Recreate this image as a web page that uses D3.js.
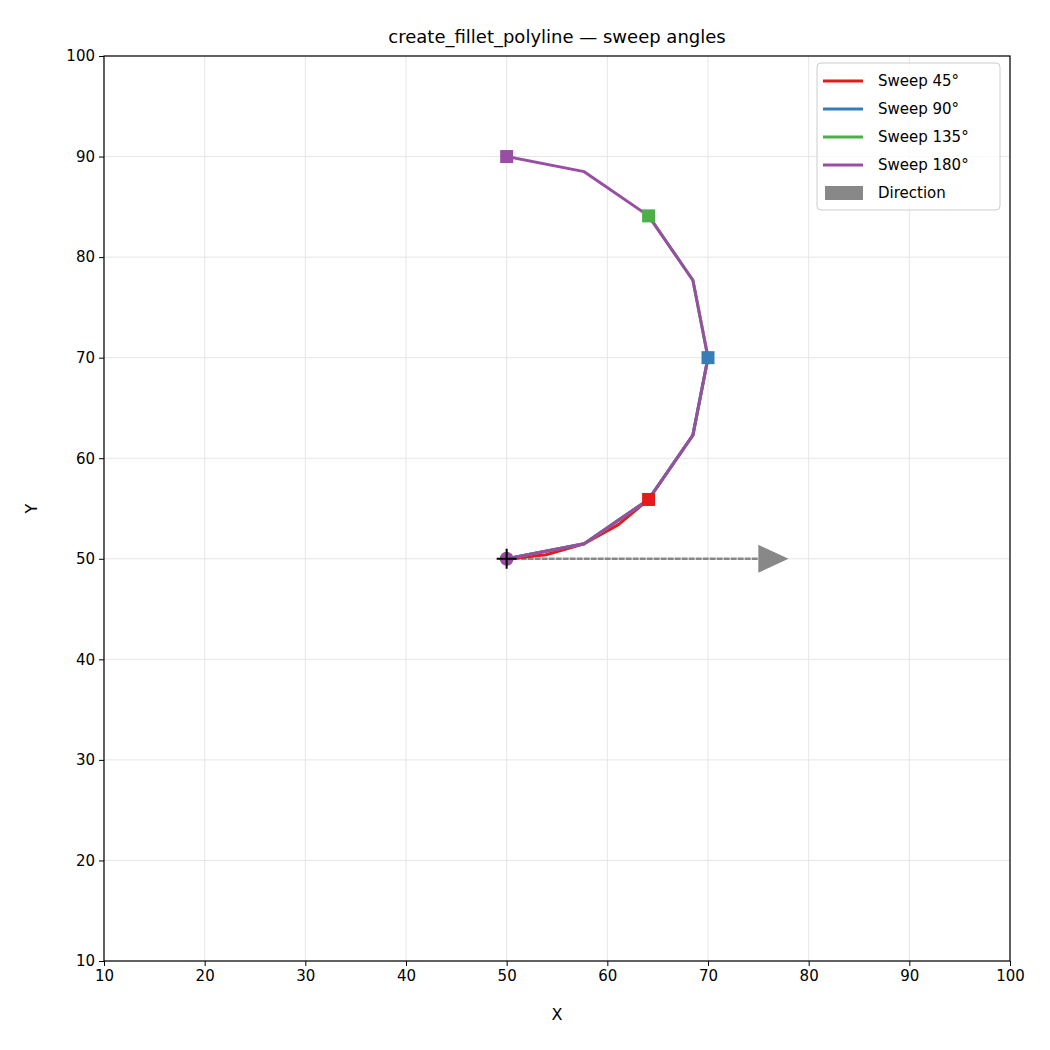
<!DOCTYPE html>
<html><head><meta charset="utf-8">
<script src="https://cdn.jsdelivr.net/npm/d3@7"></script>
<style>body{margin:0;background:#fff;font-family:"DejaVu Sans",sans-serif}</style>
</head><body><div class="container"></div>
<script>
const names = ["Sweep 45°", "Sweep 90°", "Sweep 135°", "Sweep 180°"];
const colors = ["#e41a1c", "#377eb8", "#4daf4a", "#984ea3"];
const sweep45 = [[50,50],[53.9,50.4],[57.7,51.5],[61.1,53.4],[64.1,55.9]];
const sweep90 = [[50,50],[57.7,51.5],[64.1,55.9],[68.5,62.3],[70,70]];
const sweep135 = [[50,50],[57.7,51.5],[64.1,55.9],[68.5,62.3],[70,70],[68.5,77.7],[64.1,84.1]];
const sweep180 = [[50,50],[57.7,51.5],[64.1,55.9],[68.5,62.3],[70,70],[68.5,77.7],[64.1,84.1],[57.7,88.5],[50,90]];
const series = [sweep45, sweep90, sweep135, sweep180];
const startPt = [50, 50];
const arrowEnd = [78, 50];
const ticks = [10,20,30,40,50,60,70,80,90,100];

const L = 104, R = 1010, T = 56, B = 961;
const svg = d3.select(".container").append("svg").attr("width",1050).attr("height",1050);
const x = d3.scaleLinear().domain([10,100]).range([L,R]);
const y = d3.scaleLinear().domain([10,100]).range([B,T]);

const grid = svg.append("g").attr("stroke","#e6e6e6").attr("stroke-width",1);
ticks.forEach(t => {
  grid.append("line").attr("x1",x(t)).attr("x2",x(t)).attr("y1",T).attr("y2",B);
  grid.append("line").attr("y1",y(t)).attr("y2",y(t)).attr("x1",L).attr("x2",R);
});

const xa = svg.append("g").attr("transform",`translate(0,${B})`).call(d3.axisBottom(x).tickValues(ticks).tickSizeOuter(0).tickSize(5).tickPadding(4));
const ya = svg.append("g").attr("transform",`translate(${L},0)`).call(d3.axisLeft(y).tickValues(ticks).tickSizeOuter(0).tickSize(5).tickPadding(4));
[xa,ya].forEach(a => { a.selectAll("text").attr("font-size",15).attr("font-family","DejaVu Sans").attr("fill","#000"); a.select(".domain").remove(); });

// direction arrow
svg.append("line").attr("x1",x(startPt[0])).attr("y1",y(startPt[1])).attr("x2",x(75)).attr("y2",y(50))
  .attr("stroke","#888").attr("stroke-width",2.5).attr("stroke-dasharray","6,1");
svg.append("path").attr("fill","#888")
  .attr("d",`M${x(75)},${y(50)-14}L${x(arrowEnd[0])},${y(50)}L${x(75)},${y(50)+14}Z`);

const line = d3.line().x(d=>x(d[0])).y(d=>y(d[1]));
series.forEach((s,i) => {
  svg.append("path").attr("d",line(s)).attr("fill","none").attr("stroke",colors[i]).attr("stroke-width",3).attr("stroke-linejoin","round");
});
series.forEach((s,i) => {
  const e = s[s.length-1];
  svg.append("rect").attr("x",x(e[0])-6.5).attr("y",y(e[1])-6.5).attr("width",13).attr("height",13).attr("fill",colors[i]);
});
svg.append("circle").attr("cx",x(startPt[0])).attr("cy",y(startPt[1])).attr("r",7).attr("fill","#984ea3");
svg.append("path").attr("d",`M${x(50)-10},${y(50)}H${x(50)+10}M${x(50)},${y(50)-10}V${y(50)+10}`).attr("stroke","#000").attr("stroke-width",2);

svg.append("rect").attr("x",L).attr("y",T).attr("width",R-L).attr("height",B-T).attr("fill","none").attr("stroke","#000").attr("stroke-width",1.2);

svg.append("text").attr("x",(L+R)/2).attr("y",43).attr("text-anchor","middle").attr("font-size",18).text("create_fillet_polyline — sweep angles");
svg.append("text").attr("x",(L+R)/2).attr("y",1020).attr("text-anchor","middle").attr("font-size",16).text("X");
svg.append("text").attr("transform",`translate(37,${(T+B)/2}) rotate(-90)`).attr("text-anchor","middle").attr("font-size",16).text("Y");

// legend
const lg = svg.append("g").attr("transform","translate(817,63)");
lg.append("rect").attr("width",183).attr("height",147).attr("rx",4).attr("fill","#fff").attr("fill-opacity",0.8).attr("stroke","#ccc");
names.forEach((n,i) => {
  const yy = 18 + i*28;
  lg.append("line").attr("x1",6).attr("x2",46).attr("y1",yy).attr("y2",yy).attr("stroke",colors[i]).attr("stroke-width",3);
  lg.append("text").attr("x",61).attr("y",yy+5).attr("font-size",15).text(n);
});
lg.append("rect").attr("x",8).attr("y",123).attr("width",38).attr("height",14).attr("fill","#888");
lg.append("text").attr("x",61).attr("y",135).attr("font-size",15).text("Direction");
</script></body></html>
